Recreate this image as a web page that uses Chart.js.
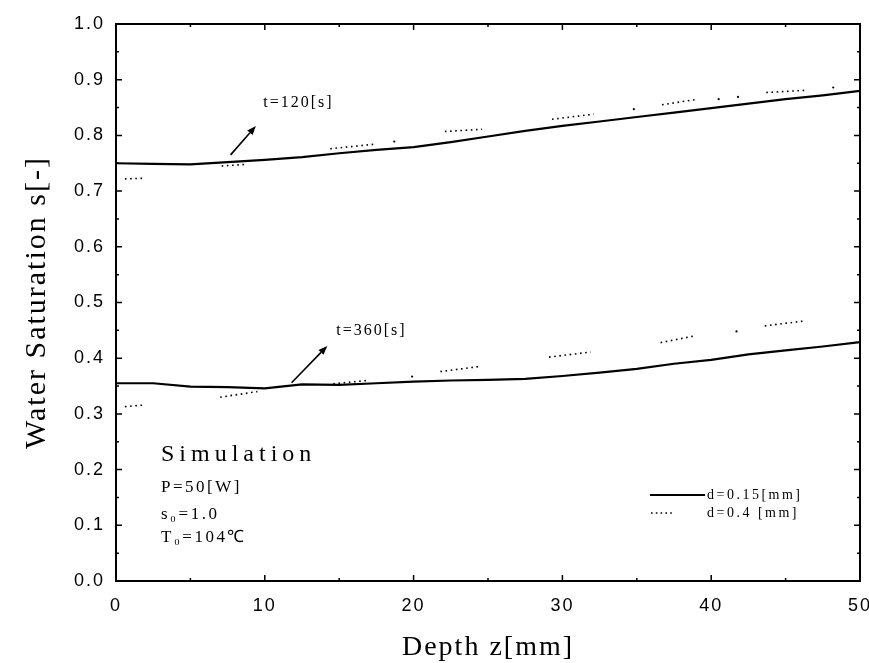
<!DOCTYPE html>
<html>
<head>
<meta charset="utf-8">
<script src="https://cdn.jsdelivr.net/npm/chart.js@4"></script>
<style>
  html, body { margin: 0; padding: 0; background: #fff; overflow: hidden; }
  canvas { display: block; }
</style>
</head>
<body>
<canvas id="c" width="869" height="663"></canvas>
<script>
// Depth positions [mm] of the simulated profiles for d = 0.15 mm
const depthGrid = [0, 2.5, 5, 7.5, 10, 12.5, 15, 17.5, 20, 22.5, 25,
                   27.5, 30, 32.5, 35, 37.5, 40, 42.5, 45, 47.5, 50];

// Water saturation, d = 0.15 mm, at t = 120 s and t = 360 s
const satFine120 = [0.750, 0.749, 0.748, 0.752, 0.756, 0.761, 0.768, 0.774, 0.779, 0.788, 0.798,
                    0.808, 0.817, 0.825, 0.833, 0.841, 0.849, 0.857, 0.865, 0.872, 0.880];
const satFine360 = [0.355, 0.355, 0.349, 0.348, 0.346, 0.353, 0.352, 0.355, 0.358, 0.360, 0.361,
                    0.363, 0.368, 0.374, 0.381, 0.390, 0.397, 0.407, 0.414, 0.421, 0.429];

// d = 0.4 mm profiles, stored as separate runs (depth [mm] / saturation)
const coarseDepth120 = [[0.6, 1.9], [7.1, 8.7], [14.4, 17.3], [18.7], [22.1, 24.6], [29.3, 32.1],
                        [34.8], [36.7, 39.1], [40.5], [41.8], [43.7, 46.4], [48.2]];
const coarseSat120   = [[0.722, 0.723], [0.745, 0.748], [0.776, 0.784], [0.789], [0.807, 0.811], [0.829, 0.838],
                        [0.847], [0.855, 0.865], [0.865], [0.869], [0.877, 0.881], [0.886]];
const coarseDepth360 = [[0.6, 1.9], [7.0, 9.5], [14.6, 16.9], [19.9], [21.8, 24.4], [29.1, 31.9],
                        [36.6, 38.9], [41.7], [43.6, 46.3]];
const coarseSat360   = [[0.313, 0.316], [0.330, 0.340], [0.354, 0.360], [0.367], [0.376, 0.385], [0.402, 0.411],
                        [0.428, 0.440], [0.448], [0.458, 0.467]];

// Axis tick values
const xTickValues = [0, 10, 20, 30, 40, 50];
const yTickValues = [0, 0.1, 0.2, 0.3, 0.4, 0.5, 0.6, 0.7, 0.8, 0.9, 1.0];

// Legend entries and text
const legendLabels = ['d=0.15[mm]', 'd=0.4 [mm]'];
const conditionTitle = 'Simulation';
const conditionLines = ['P=50[W]', 's\u2080=1.0', 'T\u2080=104\u2103'];

// Time labels with arrows (tail -> head, in depth / saturation units)
const timeLabels = ['t=120[s]', 't=360[s]'];
const timeLabelAt = [[9.9, 0.858], [14.8, 0.449]];
const arrowTail = [[7.7, 0.765], [11.8, 0.356]];
const arrowHead = [[9.4, 0.817], [14.2, 0.422]];

function pairs(xs, ys) {
  return xs.map((x, i) => ({ x: x, y: ys[i] }));
}
function joinRuns(depthRuns, satRuns) {
  const out = [];
  depthRuns.forEach((run, r) => {
    if (r > 0) out.push({ x: run[0], y: null });
    run.forEach((x, i) => out.push({ x: x, y: satRuns[r][i] }));
  });
  return out;
}
function isolatedRadius(ctx) {
  const d = ctx.dataset.data, i = ctx.dataIndex;
  if (!d[i] || d[i].y == null) return 0;
  const prevGap = i === 0 || d[i - 1].y == null;
  const nextGap = i === d.length - 1 || d[i + 1].y == null;
  return prevGap && nextGap ? 1.1 : 0;
}

const solidStyle = {
  borderColor: '#000', borderWidth: 2.2, pointRadius: 0, tension: 0, fill: false
};
const dottedStyle = {
  borderColor: '#000', borderWidth: 1.6, borderDash: [1.6, 3.6], tension: 0, fill: false,
  pointRadius: isolatedRadius, pointBackgroundColor: '#000', pointBorderWidth: 0, pointHoverRadius: 0
};

const datasets = [
  Object.assign({ label: legendLabels[0], data: pairs(depthGrid, satFine120) }, solidStyle),
  Object.assign({ label: legendLabels[0], data: pairs(depthGrid, satFine360) }, solidStyle),
  Object.assign({ label: legendLabels[1], data: joinRuns(coarseDepth120, coarseSat120) }, dottedStyle),
  Object.assign({ label: legendLabels[1], data: joinRuns(coarseDepth360, coarseSat360) }, dottedStyle)
];

// Letter spacing for the axis text; reset before the series are drawn
const axisTextSpacing = {
  id: 'axisTextSpacing',
  beforeDraw(chart) { chart.ctx.letterSpacing = '2px'; },
  beforeDatasetsDraw(chart) { chart.ctx.letterSpacing = '0px'; }
};

function drawText(ctx, text, x, y, font, spacing, align) {
  ctx.save();
  ctx.font = font;
  ctx.letterSpacing = spacing + 'px';
  ctx.fillStyle = '#000';
  ctx.textAlign = align || 'left';
  ctx.textBaseline = 'middle';
  ctx.fillText(text, x, y);
  ctx.restore();
}

// Frame, inward tick marks, arrows, legend and text block
const decorations = {
  id: 'decorations',
  afterDatasetsDraw(chart) {
    const ctx = chart.ctx;
    const a = chart.chartArea;
    const xs = chart.scales.x, ys = chart.scales.y;
    ctx.save();
    ctx.strokeStyle = '#000';
    ctx.fillStyle = '#000';
    ctx.setLineDash([]);

    // frame
    ctx.lineWidth = 2;
    ctx.strokeRect(a.left, a.top, a.right - a.left, a.bottom - a.top);

    // inward ticks on all four sides
    ctx.lineWidth = 1.5;
    ctx.beginPath();
    for (let v = 5; v < 50; v += 5) {
      const px = xs.getPixelForValue(v);
      const len = v % 10 === 0 ? 6 : 3;
      ctx.moveTo(px, a.bottom); ctx.lineTo(px, a.bottom - len);
      ctx.moveTo(px, a.top); ctx.lineTo(px, a.top + len);
    }
    for (let k = 1; k < 20; k++) {
      const py = ys.getPixelForValue(k * 0.05);
      const len = k % 2 === 0 ? 6 : 3;
      ctx.moveTo(a.left, py); ctx.lineTo(a.left + len, py);
      ctx.moveTo(a.right, py); ctx.lineTo(a.right - len, py);
    }
    ctx.stroke();

    // time labels with arrows
    timeLabels.forEach((label, i) => {
      const x0 = xs.getPixelForValue(arrowTail[i][0]), y0 = ys.getPixelForValue(arrowTail[i][1]);
      const x1 = xs.getPixelForValue(arrowHead[i][0]), y1 = ys.getPixelForValue(arrowHead[i][1]);
      const ang = Math.atan2(y1 - y0, x1 - x0);
      const hl = 9, hw = 3.5;
      const bx = x1 - hl * Math.cos(ang), by = y1 - hl * Math.sin(ang);
      ctx.lineWidth = 1.6;
      ctx.beginPath();
      ctx.moveTo(x0, y0); ctx.lineTo(bx, by);
      ctx.stroke();
      ctx.beginPath();
      ctx.moveTo(x1, y1);
      ctx.lineTo(bx + hw * Math.sin(ang), by - hw * Math.cos(ang));
      ctx.lineTo(bx - hw * Math.sin(ang), by + hw * Math.cos(ang));
      ctx.closePath();
      ctx.fill();
      drawText(ctx, label, xs.getPixelForValue(timeLabelAt[i][0]), ys.getPixelForValue(timeLabelAt[i][1]),
               '16px "Liberation Serif"', 2);
    });

    // legend
    const lx0 = a.right - 210, textX = a.right - 153;
    const rowY = [a.bottom - 86, a.bottom - 68];
    ctx.lineWidth = 2.2;
    ctx.beginPath();
    ctx.moveTo(lx0, rowY[0]); ctx.lineTo(textX - 2, rowY[0]);
    ctx.stroke();
    ctx.lineWidth = 1.6;
    ctx.setLineDash([1.6, 3.2]);
    ctx.beginPath();
    ctx.moveTo(lx0 + 1, rowY[1]); ctx.lineTo(lx0 + 24, rowY[1]);
    ctx.stroke();
    ctx.setLineDash([]);
    legendLabels.forEach((t, i) => drawText(ctx, t, textX, rowY[i], '14px "Liberation Serif"', 2.5));

    // conditions block
    const bx0 = a.left + 45;
    drawText(ctx, conditionTitle, bx0, a.bottom - 126, '24px "Liberation Serif"', 5);
    const lineY = [a.bottom - 93, a.bottom - 66, a.bottom - 43];
    conditionLines.forEach((t, i) => drawText(ctx, t, bx0, lineY[i], '17px "Liberation Serif"', 2.5));

    ctx.restore();
  }
};

new Chart(document.getElementById('c'), {
  type: 'line',
  data: { datasets: datasets },
  options: {
    responsive: false,
    animation: false,
    events: [],
    spanGaps: false,
    layout: { padding: { top: 24, right: 9, bottom: 0, left: 0 } },
    plugins: { legend: { display: false }, tooltip: { enabled: false } },
    scales: {
      x: {
        type: 'linear', position: 'bottom', min: 0, max: 50,
        grid: { display: false, drawTicks: false },
        border: { display: false },
        afterBuildTicks(s) { s.ticks = xTickValues.map(v => ({ value: v })); },
        afterFit(s) { s.height = 82; s.paddingLeft = 0; s.paddingRight = 0; },
        ticks: {
          color: '#000', padding: 14, maxRotation: 0, autoSkip: false,
          font: { family: '"Liberation Sans"', size: 18 },
          callback: v => String(v)
        },
        title: {
          display: true, text: 'Depth z[mm]', color: '#000',
          font: { family: '"Liberation Serif"', size: 28, lineHeight: 1.1 },
          padding: { top: 0, bottom: 0 }
        }
      },
      y: {
        type: 'linear', position: 'left', min: 0, max: 1,
        grid: { display: false, drawTicks: false },
        border: { display: false },
        afterBuildTicks(s) { s.ticks = yTickValues.map(v => ({ value: v })); },
        afterFit(s) { s.width = 116; s.paddingTop = 0; s.paddingBottom = 0; },
        ticks: {
          color: '#000', padding: 11, autoSkip: false,
          font: { family: '"Liberation Sans"', size: 18 },
          callback: v => Number(v).toFixed(1)
        },
        title: {
          display: true, text: 'Water Saturation s[-]', color: '#000',
          font: { family: '"Liberation Serif"', size: 30, lineHeight: 1.1 },
          padding: { top: 21, bottom: 0 }
        }
      }
    }
  },
  plugins: [axisTextSpacing, decorations]
});
</script>
</body>
</html>
